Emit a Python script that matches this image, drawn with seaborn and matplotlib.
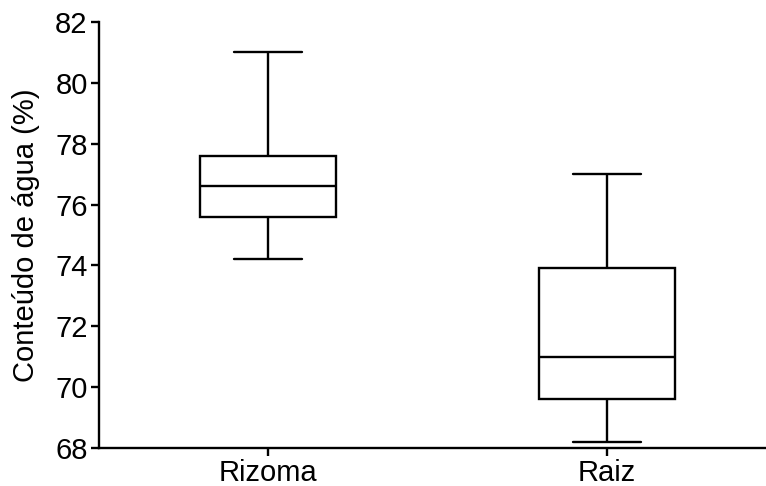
import numpy as np
import pandas as pd
import matplotlib
matplotlib.use("Agg")
import matplotlib.pyplot as plt
import seaborn as sns

# five-number summaries (min, Q1, median, Q3, max)
categorias = ["Rizoma", "Raiz"]
rizoma = [74.2, 75.6, 76.6, 77.6, 81.0]
raiz = [68.2, 69.6, 71.0, 73.9, 77.0]

df = pd.DataFrame({
    "tecido": ["Rizoma"] * len(rizoma) + ["Raiz"] * len(raiz),
    "agua": rizoma + raiz,
})

sns.set_style("ticks")
plt.rcParams["font.family"] = ["Liberation Sans", "DejaVu Sans"]
plt.rcParams["text.color"] = "black"
plt.rcParams["axes.labelcolor"] = "black"
plt.rcParams["xtick.color"] = "black"
plt.rcParams["ytick.color"] = "black"

fig = plt.figure(figsize=(7.66, 4.86), dpi=100)
ax = fig.add_axes([0.129, 0.078, 0.871, 0.877])

lw = 1.7
sns.boxplot(data=df, x="tecido", y="agua", order=categorias, ax=ax,
            whis=(0, 100), width=0.4, color="white", linecolor="black",
            linewidth=lw, fliersize=0)

ax.set_ylim(68, 82)
ax.set_yticks(np.arange(68, 83, 2))
ax.set_xlim(-0.5, 1.47)
ax.set_xlabel("")
ax.set_ylabel("Conteúdo de água (%)", fontsize=21, labelpad=11)
ax.tick_params(axis="both", labelsize=21, width=lw, length=6, pad=2,
               direction="out", color="black", labelcolor="black")
for s in ["left", "bottom"]:
    ax.spines[s].set_linewidth(lw)
    ax.spines[s].set_color("black")
sns.despine(ax=ax)

fig.savefig("out.png", dpi=100)
